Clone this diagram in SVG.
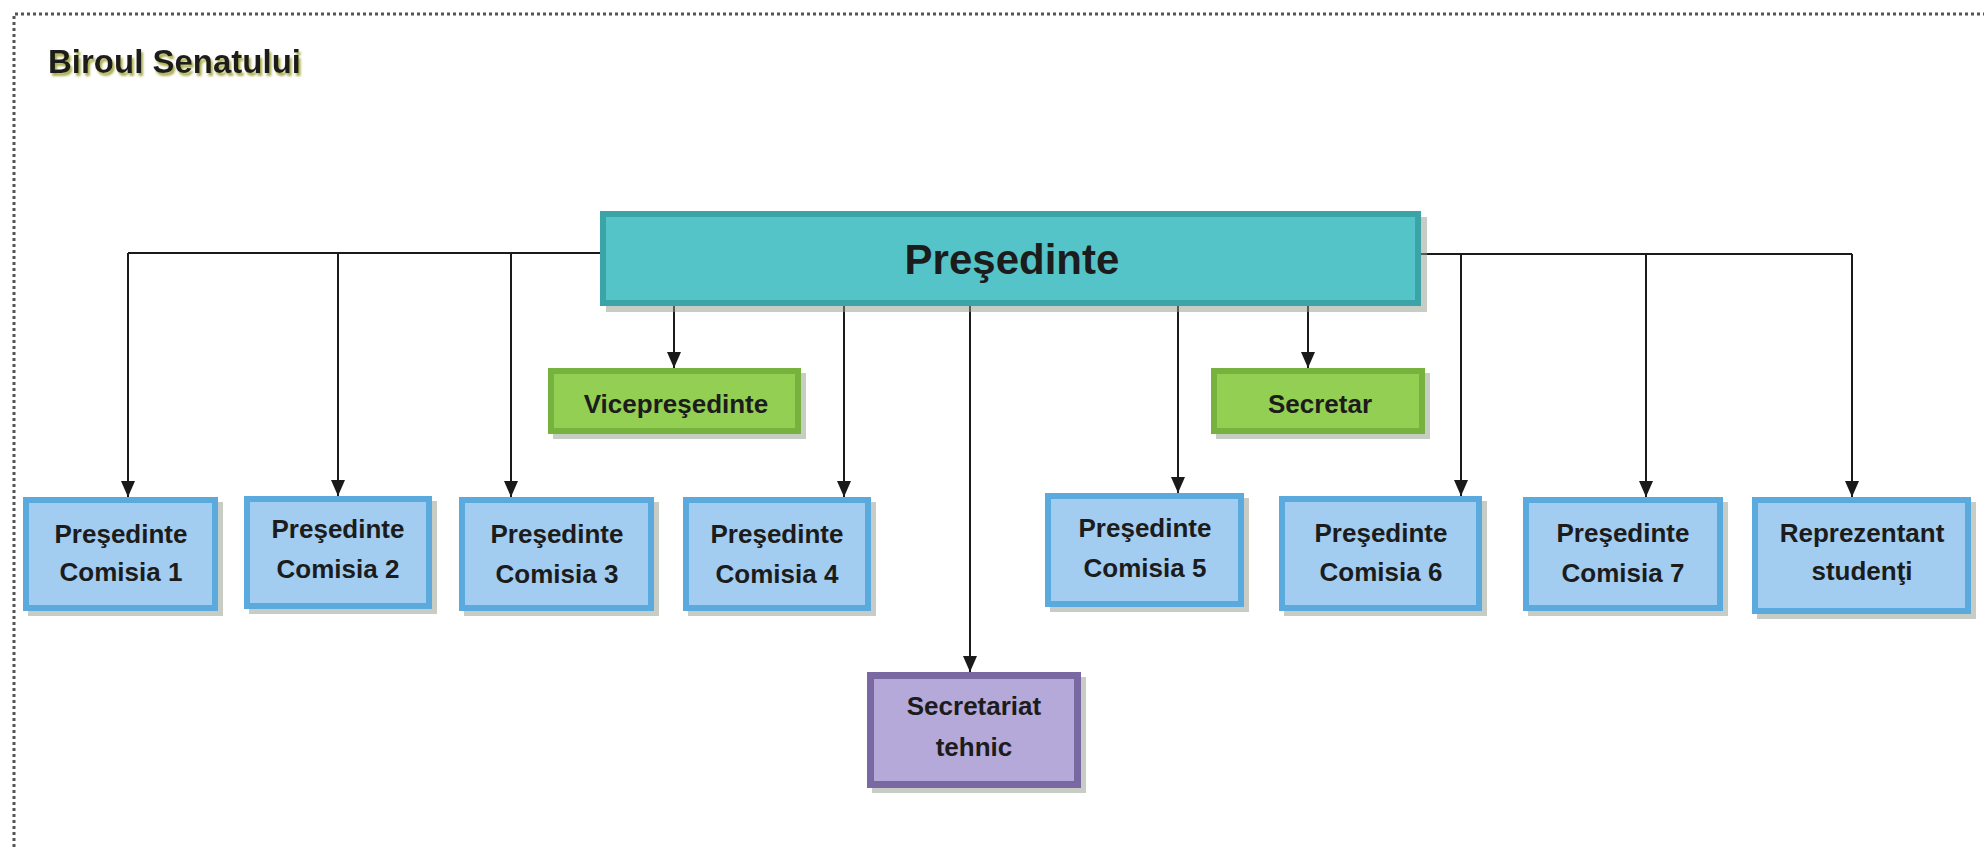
<svg xmlns="http://www.w3.org/2000/svg" width="1984" height="847" viewBox="0 0 1984 847">
<defs>
<marker id="arr" markerUnits="userSpaceOnUse" markerWidth="14" markerHeight="16" refX="7" refY="16" orient="0">
<path d="M0,0 L14,0 L7,16 Z" fill="#1a1a1a"/>
</marker>
<filter id="tshadow" x="-5%" y="-20%" width="115%" height="160%">
<feDropShadow dx="2" dy="3" stdDeviation="1" flood-color="#a2a43a" flood-opacity="0.9"/>
</filter>
<style>
text{font-family:"Liberation Sans","Open Sans",Arial,sans-serif;font-weight:bold;fill:#1c1c1c;text-anchor:middle}
.t{font-size:26px}
.title{font-size:33px;text-anchor:start;filter:url(#tshadow)}
.big{font-size:42px}
.sh{fill:#8f9a8a;opacity:0.5}
.blue{fill:#a2cdf0;stroke:#5aaade;stroke-width:6}
.green{fill:#93cf52;stroke:#76b23e;stroke-width:6}
.teal{fill:#55c4c8;stroke:#3aa4a6;stroke-width:6}
.purple{fill:#b5a9d9;stroke:#7a68a2;stroke-width:7}
.c{fill:none;stroke:#1a1a1a;stroke-width:2}
.a{marker-end:url(#arr)}
</style>
</defs>
<rect width="1984" height="847" fill="#ffffff"/>
<path d="M14,847 V14 H1984" fill="none" stroke="#555" stroke-width="3" stroke-dasharray="3 3"/>
<text class="title" x="48" y="73">Biroul Senatului</text>

<g id="connectors">
<path class="c" d="M600,253 H128"/>
<path class="c a" d="M128,253 V497"/>
<path class="c a" d="M338,253 V496"/>
<path class="c a" d="M511,253 V497"/>
<path class="c" d="M1421,254 H1852"/>
<path class="c a" d="M1461,254 V496"/>
<path class="c a" d="M1646,254 V497"/>
<path class="c a" d="M1852,254 V497"/>
<path class="c a" d="M674,306 V368"/>
<path class="c a" d="M844,306 V497"/>
<path class="c a" d="M970,306 V672"/>
<path class="c a" d="M1178,306 V493"/>
<path class="c a" d="M1308,306 V368"/>
</g>

<g id="presedinte">
<rect class="sh" x="606" y="217" width="821" height="95"/>
<rect class="teal" x="603" y="214" width="815" height="89"/>
<text class="big" x="1012" y="274">Preşedinte</text>
</g>
<g id="vicepresedinte">
<rect class="sh" x="553" y="373" width="253" height="66"/>
<rect class="green" x="551" y="371" width="247" height="60"/>
<text class="t" x="676" y="413">Vicepreşedinte</text>
</g>
<g id="secretar">
<rect class="sh" x="1216" y="373" width="214" height="66"/>
<rect class="green" x="1214" y="371" width="208" height="60"/>
<text class="t" x="1320" y="413">Secretar</text>
</g>
<g id="comisia1">
<rect class="sh" x="28" y="502" width="195" height="114"/>
<rect class="blue" x="26" y="500" width="189" height="108"/>
<text class="t" x="121" y="543">Preşedinte</text>
<text class="t" x="121" y="581">Comisia 1</text>
</g>
<g id="comisia2">
<rect class="sh" x="249" y="501" width="188" height="113"/>
<rect class="blue" x="247" y="499" width="182" height="107"/>
<text class="t" x="338" y="538">Preşedinte</text>
<text class="t" x="338" y="578">Comisia 2</text>
</g>
<g id="comisia3">
<rect class="sh" x="464" y="502" width="195" height="114"/>
<rect class="blue" x="462" y="500" width="189" height="108"/>
<text class="t" x="557" y="543">Preşedinte</text>
<text class="t" x="557" y="583">Comisia 3</text>
</g>
<g id="comisia4">
<rect class="sh" x="688" y="502" width="188" height="114"/>
<rect class="blue" x="686" y="500" width="182" height="108"/>
<text class="t" x="777" y="543">Preşedinte</text>
<text class="t" x="777" y="583">Comisia 4</text>
</g>
<g id="comisia5">
<rect class="sh" x="1050" y="498" width="199" height="114"/>
<rect class="blue" x="1048" y="496" width="193" height="108"/>
<text class="t" x="1145" y="537">Preşedinte</text>
<text class="t" x="1145" y="577">Comisia 5</text>
</g>
<g id="comisia6">
<rect class="sh" x="1284" y="501" width="203" height="115"/>
<rect class="blue" x="1282" y="499" width="197" height="109"/>
<text class="t" x="1381" y="542">Preşedinte</text>
<text class="t" x="1381" y="581">Comisia 6</text>
</g>
<g id="comisia7">
<rect class="sh" x="1528" y="502" width="200" height="114"/>
<rect class="blue" x="1526" y="500" width="194" height="108"/>
<text class="t" x="1623" y="542">Preşedinte</text>
<text class="t" x="1623" y="582">Comisia 7</text>
</g>
<g id="reprezentant">
<rect class="sh" x="1757" y="502" width="219" height="117"/>
<rect class="blue" x="1755" y="500" width="213" height="111"/>
<text class="t" x="1862" y="542">Reprezentant</text>
<text class="t" x="1862" y="580">studenţi</text>
</g>
<g id="secretariat">
<rect class="sh" x="872" y="677" width="214" height="116"/>
<rect class="purple" x="870.5" y="675.5" width="207" height="109"/>
<text class="t" x="974" y="715">Secretariat</text>
<text class="t" x="974" y="756">tehnic</text>
</g>
</svg>
